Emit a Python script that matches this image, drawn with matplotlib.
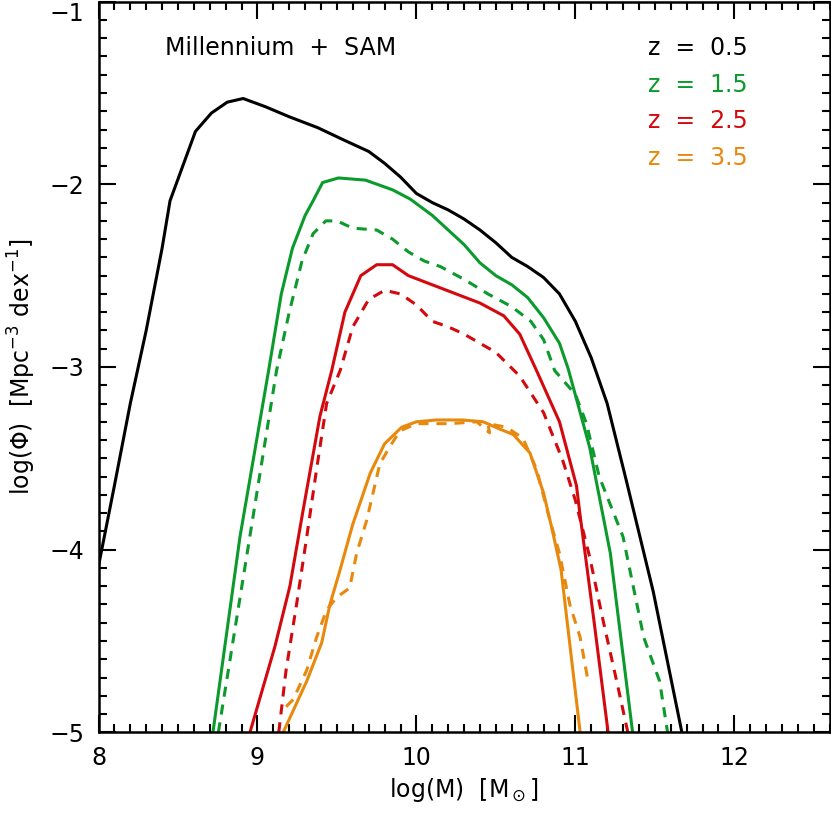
import numpy as np
import matplotlib.pyplot as plt
from matplotlib.ticker import MultipleLocator

plt.rcParams['font.family'] = ['DejaVu Sans']
plt.rcParams['mathtext.fontset'] = 'dejavusans'

# z = 0.5 (solid only)
x_z05 = [8.00, 8.10, 8.20, 8.30, 8.40, 8.45, 8.53, 8.61, 8.71, 8.81, 8.91, 9.05, 9.20,
         9.38, 9.55, 9.70, 9.80, 9.90, 10.00, 10.10, 10.20, 10.30, 10.40, 10.50, 10.60,
         10.70, 10.80, 10.90, 11.00, 11.10, 11.20, 11.32, 11.49, 11.67]
y_z05 = [-4.09, -3.65, -3.20, -2.80, -2.35, -2.09, -1.90, -1.71, -1.61, -1.55, -1.53, -1.575, -1.63,
         -1.69, -1.76, -1.82, -1.885, -1.96, -2.05, -2.10, -2.14, -2.19, -2.25, -2.32, -2.40,
         -2.45, -2.51, -2.60, -2.75, -2.95, -3.20, -3.62, -4.23, -5.00]

# z = 1.5
x_z15 = [8.72, 8.89, 9.07, 9.15, 9.22, 9.30, 9.35, 9.41, 9.51, 9.68, 9.85, 9.96, 10.10,
         10.20, 10.30, 10.40, 10.50, 10.60, 10.70, 10.80, 10.90, 10.955, 11.09, 11.22, 11.36]
y_z15 = [-5.00, -3.93, -3.02, -2.60, -2.35, -2.17, -2.09, -1.99, -1.965, -1.977, -2.03, -2.08, -2.17,
         -2.25, -2.33, -2.43, -2.50, -2.55, -2.62, -2.73, -2.87, -3.01, -3.44, -4.02, -5.00]
x_z15d = [8.754, 9.12, 9.20, 9.28, 9.35, 9.43, 9.50, 9.60, 9.75, 9.85, 9.95, 10.05, 10.15,
          10.30, 10.45, 10.60, 10.72, 10.80, 10.87, 11.00, 11.07, 11.15, 11.30, 11.43, 11.53, 11.58]
y_z15d = [-5.00, -3.02, -2.70, -2.42, -2.27, -2.20, -2.20, -2.24, -2.25, -2.30, -2.37, -2.42, -2.45,
          -2.52, -2.60, -2.67, -2.75, -2.85, -3.02, -3.15, -3.31, -3.60, -3.93, -4.48, -4.72, -5.00]

# z = 2.5
x_z25 = [8.953, 9.11, 9.204, 9.288, 9.393, 9.467, 9.55, 9.65, 9.75, 9.85, 9.95, 10.10, 10.25,
         10.40, 10.55, 10.65, 10.756, 10.90, 11.007, 11.028, 11.117, 11.206]
y_z25 = [-5.00, -4.53, -4.20, -3.78, -3.27, -3.02, -2.70, -2.50, -2.44, -2.44, -2.50, -2.55, -2.60,
         -2.65, -2.72, -2.82, -3.02, -3.30, -3.65, -3.80, -4.39, -5.00]
x_z25d = [9.134, 9.18, 9.246, 9.31, 9.372, 9.435, 9.52, 9.60, 9.70, 9.80, 9.90, 10.00, 10.10,
          10.20, 10.30, 10.40, 10.50, 10.65, 10.80, 10.92, 11.00, 11.09, 11.175, 11.26, 11.33]
y_z25d = [-5.00, -4.66, -4.30, -3.93, -3.56, -3.20, -3.02, -2.78, -2.63, -2.58, -2.60, -2.66, -2.75,
          -2.78, -2.82, -2.87, -2.92, -3.05, -3.25, -3.51, -3.73, -4.04, -4.39, -4.72, -5.00]

# z = 3.5
x_z35 = [9.162, 9.31, 9.404, 9.456, 9.52, 9.60, 9.71, 9.80, 9.907, 10.00, 10.127, 10.29, 10.42,
         10.525, 10.61, 10.714, 10.80, 10.85, 10.91, 11.03]
y_z35 = [-5.00, -4.72, -4.51, -4.30, -4.11, -3.86, -3.58, -3.42, -3.33, -3.30, -3.29, -3.29, -3.30,
         -3.34, -3.37, -3.47, -3.69, -3.875, -4.11, -5.00]
x_z35d = [9.18, 9.225, 9.31, 9.372, 9.435, 9.50, 9.58, 9.624, 9.687, 9.77, 9.83, 9.896, 10.00,
          10.21, 10.38, 10.46, 10.45, 10.567, 10.67, 10.756, 10.84, 10.90, 10.965, 11.03, 11.08]
y_z35d = [-4.86, -4.82, -4.66, -4.48, -4.33, -4.26, -4.21, -4.02, -3.84, -3.53, -3.44, -3.35, -3.31,
          -3.31, -3.30, -3.36, -3.31, -3.33, -3.39, -3.56, -3.84, -4.02, -4.30, -4.48, -4.72]

labels = ['z  =  0.5', 'z  =  1.5', 'z  =  2.5', 'z  =  3.5']
colors = ['black', '#0b9a2c', '#d3090e', '#e8880c']
yticks = [-5, -4, -3, -2, -1]

fig = plt.figure(figsize=(8.31, 8.14), dpi=100)
ax = fig.add_axes([98.5 / 831, (814 - 732.3) / 814, (829.7 - 98.5) / 831, (732.3 - 1.7) / 814])

lw = 2.2
dash = (0, (3.3, 2.6))
ax.plot(x_z05, y_z05, color=colors[0], lw=lw)
ax.plot(x_z15, y_z15, color=colors[1], lw=lw)
ax.plot(x_z15d, y_z15d, color=colors[1], lw=lw, ls=dash)
ax.plot(x_z25, y_z25, color=colors[2], lw=lw)
ax.plot(x_z25d, y_z25d, color=colors[2], lw=lw, ls=dash)
ax.plot(x_z35, y_z35, color=colors[3], lw=lw)
ax.plot(x_z35d, y_z35d, color=colors[3], lw=lw, ls=dash)

ax.set_xlim(8, 12.6)
ax.set_ylim(-5, -1)
ax.xaxis.set_major_locator(MultipleLocator(1))
ax.xaxis.set_minor_locator(MultipleLocator(0.1))
ax.set_yticks(yticks)
ax.set_yticklabels(['\u2212%d' % abs(v) for v in yticks])
ax.yaxis.set_minor_locator(MultipleLocator(0.1))
ax.tick_params(which='both', direction='in', top=True, right=True, width=1.5, labelsize=17)
ax.tick_params(which='major', length=12, pad=10)
ax.tick_params(which='minor', length=6)
for s in ax.spines.values():
    s.set_linewidth(1.8)
# top label sits just inside the figure
ax.get_yticklabels()[-1].set_va('top')

ax.set_xlabel(r'log(M)  [M$_\odot$]', fontsize=17, labelpad=4)
ax.set_ylabel(r'log($\Phi$)  [Mpc$^{-3}$ dex$^{-1}$]', fontsize=17, labelpad=8)

ax.text(8.42, -1.254, 'Millennium  +  SAM', fontsize=17, va='center')
for i, (lab, c) in enumerate(zip(labels, colors)):
    ax.text(12.085, -1.254 - i * 0.2, lab, color=c, fontsize=17, va='center', ha='right')

fig.savefig('out.png', dpi=100)
